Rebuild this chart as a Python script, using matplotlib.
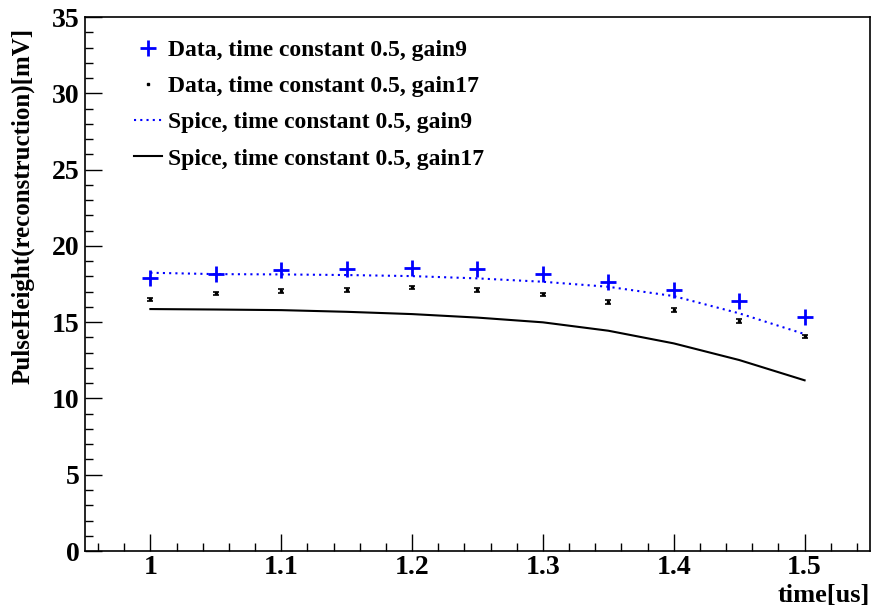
import numpy as np
import matplotlib.pyplot as plt
from matplotlib.ticker import MultipleLocator

plt.rcParams['font.family'] = ['Liberation Serif', 'DejaVu Serif']
plt.rcParams['font.weight'] = 'bold'

# time points [us]
time = [1.0, 1.05, 1.1, 1.15, 1.2, 1.25, 1.3, 1.35, 1.4, 1.45, 1.5]

# measured pulse heights [mV]
data_gain9 = [17.87, 18.13, 18.41, 18.48, 18.52, 18.46, 18.13, 17.65, 17.10, 16.40, 15.35]
data_gain17 = [16.49, 16.89, 17.04, 17.12, 17.28, 17.12, 16.82, 16.32, 15.79, 15.09, 14.07]
data_gain17_err = [0.12] * 11

# spice simulation [mV]
spice_gain9 = [18.24, 18.15, 18.13, 18.09, 18.02, 17.87, 17.65, 17.32, 16.71, 15.58, 14.22]
spice_gain17 = [15.86, 15.83, 15.79, 15.68, 15.53, 15.30, 14.99, 14.44, 13.61, 12.52, 11.19]

fig = plt.figure(figsize=(8.75, 6.09), dpi=100)
ax = fig.add_axes([0.0971, 0.0952, 0.8972, 0.8768])

h1, = ax.plot(time, data_gain9, linestyle='none', marker='+', color='#0000ff',
              markersize=11, markeredgewidth=2)
eb = ax.errorbar(time, data_gain17, yerr=data_gain17_err, linestyle='none', marker='s',
                 markersize=2, color='black', elinewidth=1.2, capsize=2.5, capthick=1.2)
h3, = ax.plot(time, spice_gain9, linestyle=(0, (1, 2)), color='#0000ff', lw=1.5)
h4, = ax.plot(time, spice_gain17, color='black', lw=1.5)

ax.set_ylim(0, 35)
ax.xaxis.set_minor_locator(MultipleLocator(0.02))
ax.yaxis.set_major_locator(MultipleLocator(5))
ax.yaxis.set_minor_locator(MultipleLocator(1))
ax.set_xticks([1.0, 1.1, 1.2, 1.3, 1.4, 1.5])
ax.set_xticklabels(['1', '1.1', '1.2', '1.3', '1.4', '1.5'])
ax.set_xlim(0.95, 1.55)
ax.tick_params(which='both', direction='in', top=False, right=False,
               labelsize=20, width=1)
ax.tick_params(which='major', length=12)
ax.tick_params(which='minor', length=6)
ax.tick_params(axis='x', pad=3)
ax.tick_params(axis='y', pad=4)
for lab in ax.get_xticklabels() + ax.get_yticklabels():
    lab.set_fontweight('bold')
for s in ax.spines.values():
    s.set_linewidth(1.2)

ax.set_ylabel('PulseHeight(reconstruction)[mV]', fontsize=18, fontweight='bold')
ax.yaxis.set_label_coords(-0.064, 0.979)
ax.yaxis.label.set_horizontalalignment('right')
ax.set_xlabel('time[us]', fontsize=19, fontweight='bold')
ax.xaxis.set_label_coords(1.0, -0.062)
ax.xaxis.label.set_horizontalalignment('right')

labels = ['Data, time constant 0.5, gain9', 'Data, time constant 0.5, gain17',
          'Spice, time constant 0.5, gain9', 'Spice, time constant 0.5, gain17']
ax.legend([h1, eb[0], h3, h4], labels, loc='upper left', bbox_to_anchor=(0.0624, 0.958),
          frameon=False, borderpad=0, borderaxespad=0,
          prop={'weight': 'bold', 'size': 17}, handlelength=1.2,
          handletextpad=0.25, labelspacing=0.62)

fig.savefig('out.png', dpi=100)
